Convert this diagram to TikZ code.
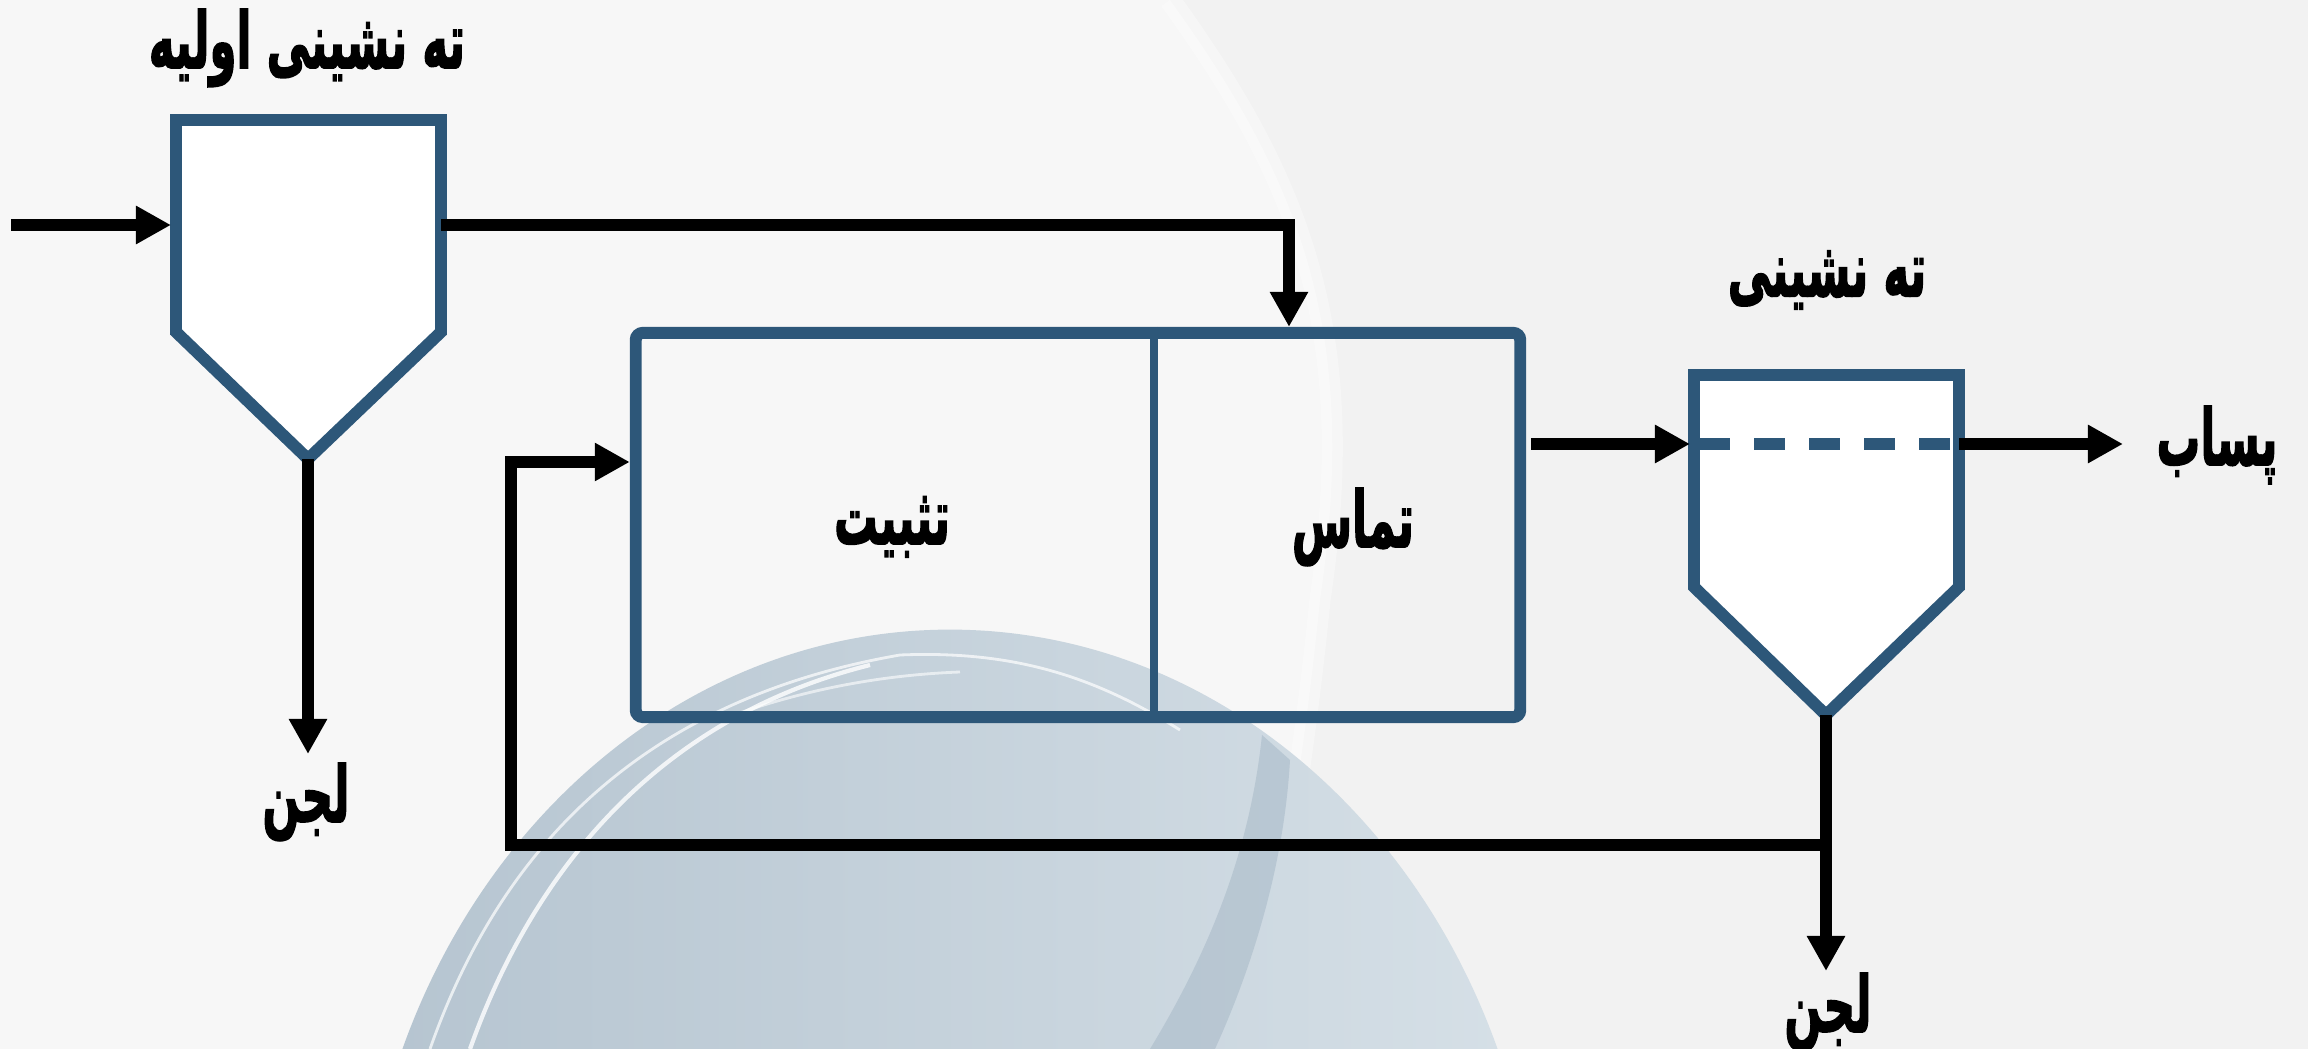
\documentclass[tikz,border=0pt]{standalone}
\usepackage{fontspec}
\newfontfamily\farsi[Script=Arabic,BoldFeatures={FakeBold=2.4}]{DejaVu Sans}
\TeXXeTstate=1
\usepackage{tikz}
\usetikzlibrary{calc,positioning,arrows.meta}
\definecolor{tankblue}{HTML}{2D5779}
\definecolor{bgleft}{HTML}{F7F7F7}
\definecolor{bgright}{HTML}{F2F2F2}
\definecolor{globeA}{HTML}{B5C4D0}
\definecolor{globeB}{HTML}{D6E0E7}
\definecolor{globeC}{HTML}{AABBC9}
\newcommand{\fatxt}[1]{\scalebox{0.62}[1.1]{\beginR #1\endR}}

\begin{document}
\begin{tikzpicture}[x=0.01cm,y=-0.01cm,
	flow/.style={line width=3.3pt},
	arr/.style={flow,-{Triangle[length=0.35cm,width=0.36cm]}},
	unit/.style={draw=tankblue,line width=3.4pt,fill=white},
	lbl/.style={font=\farsi\bfseries\fontsize{20}{24}\selectfont,inner sep=0pt}]
	\useasboundingbox (0,0) rectangle (2308,1049);
	% background with the globe
	\fill[bgleft] (0,0) rectangle (2308,1049);
	\fill[bgright] (1170,0) .. controls (1300,180) and (1360,330) .. (1320,600)
		.. controls (1300,800) and (1270,950) .. (1250,1049) -- (2308,1049) -- (2308,0) -- cycle;
	\draw[white,line width=6pt,opacity=.35] (1170,0) .. controls (1300,180) and (1360,330) .. (1320,600)
		.. controls (1300,800) and (1270,950) .. (1250,1049);
	\begin{scope}
		\clip (0,0) rectangle (2308,1049);
		\shade[left color=globeA,right color=globeB] (950,1300) ellipse (5.9cm and 6.7cm);
		\fill[globeC,opacity=.6] (1262,735) .. controls (1250,850) and (1210,950) .. (1150,1049)
			-- (1215,1049) .. controls (1260,950) and (1285,850) .. (1290,760) -- cycle;
		\draw[white,line width=1.2pt,opacity=.8] (470,1049) .. controls (530,880) and (650,720) .. (870,665);
		\draw[white,line width=.8pt,opacity=.7] (430,1049) .. controls (500,850) and (640,700) .. (900,655)
			.. controls (1020,650) and (1100,680) .. (1180,730);
		\draw[white,line width=.8pt,opacity=.6] (720,720) .. controls (800,690) and (880,675) .. (960,672);
	\end{scope}

	% primary settler
	\draw[unit] (176,120) -- (441,120) -- (441,332) -- (308,459) coordinate (ps1tip) -- (176,332) -- cycle;
	\coordinate (ps1w) at (171,225);
	\coordinate (ps1e) at (441,225);
	\node[lbl] (ps1lbl) at (307,48) {\fatxt{ته نشینی اولیه}};

	% contact / stabilisation tank
	\node[draw=tankblue,line width=3.4pt,rounded corners=2pt,inner sep=0pt,
		minimum width=8.84cm,minimum height=3.84cm] (tank) at (1078,525) {};
	\coordinate (mid) at (1154,525);
	\draw[tankblue,line width=2pt] (tank.north -| mid) -- (tank.south -| mid);
	\node[lbl] (stab) at (892,527) {\fatxt{تثبیت}};
	\node[lbl] (cont) at (1353,527) {\fatxt{تماس}};

	% secondary settler
	\draw[unit] (1694,375) -- (1959,375) -- (1959,587) -- (1826,715) coordinate (ss2tip) -- (1694,587) -- cycle;
	\coordinate (ss2w) at (1690,444);
	\coordinate (ss2e) at (1959,444);
	\draw[tankblue,line width=3.2pt,dash pattern=on 0.31cm off 0.24cm] (1699,444) -- (1953,444);
	\node[lbl] (ss2lbl) at (1827,280) {\fatxt{ته نشینی}};

	% flows
	\coordinate (inflow) at (11,225);
	\coordinate (feed) at (1289,225);
	\draw[arr] (inflow) -- (ps1w);
	\draw[arr] (ps1e) -- (feed) -- (feed |- tank.north);
	\draw[arr] (tank.east |- ss2w) ++(5,0) -- (ss2w);

	\node[lbl] (eff) at (2217,445) {\fatxt{پساب}};
	\coordinate (effend) at (2123,444);
	\draw[arr] (ss2e) -- (effend);

	\node[lbl] (sl1) at (306,802) {\fatxt{لجن}};
	\draw[arr] (ps1tip) -- (ps1tip |- 0,754);
	\node[lbl] (sl2) at (1828,1012) {\fatxt{لجن}};
	\draw[arr] (ss2tip) -- (ss2tip |- 0,971);

	% return sludge
	\coordinate (ret) at (1826,845);
	\coordinate (retc) at (511,845);
	\coordinate (rett) at (511,462);
	\draw[arr] (ret) -- (retc) -- (rett) -- (tank.west |- rett);
\end{tikzpicture}
\end{document}
